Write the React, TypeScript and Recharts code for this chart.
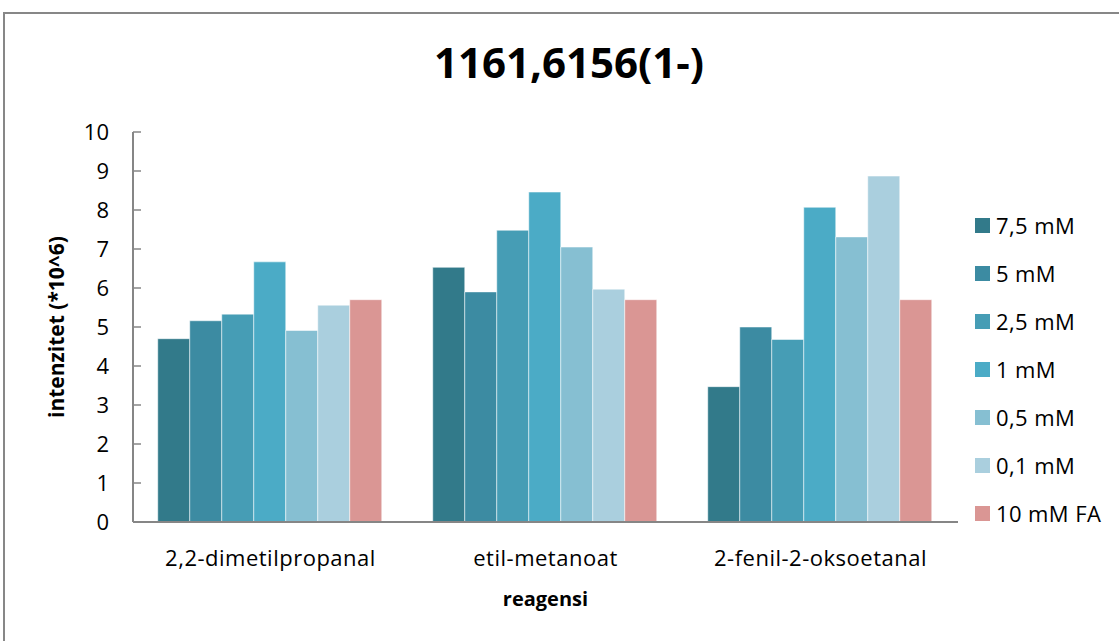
import { BarChart, Bar, XAxis, YAxis, Legend, Label } from "recharts";

// categories (x axis) and one value list per concentration, in *10^6
const reagents = ["2,2-dimetilpropanal", "etil-metanoat", "2-fenil-2-oksoetanal"];
const conc75 = [4.7, 6.53, 3.47];
const conc5 = [5.16, 5.9, 5.0];
const conc25 = [5.33, 7.48, 4.68];
const conc1 = [6.67, 8.46, 8.07];
const conc05 = [4.91, 7.05, 7.31];
const conc01 = [5.56, 5.97, 8.87];
const fa10 = [5.7, 5.7, 5.7];
const yTicks = [0, 1, 2, 3, 4, 5, 6, 7, 8, 9, 10];

const seriesNames = ["7,5 mM", "5 mM", "2,5 mM", "1 mM", "0,5 mM", "0,1 mM", "10 mM FA"];
const seriesColors = ["#327a8a", "#3c8ba2", "#469db5", "#4babc6", "#86bfd2", "#aacfde", "#da9694"];
const seriesValues = [conc75, conc5, conc25, conc1, conc05, conc01, fa10];

const data = reagents.map((name, i) => {
  const row: Record<string, string | number> = { name };
  seriesNames.forEach((s, k) => {
    row[s] = seriesValues[k][i];
  });
  return row;
});

const FONT = "'Open Sans', 'Noto Sans', sans-serif";

// y ticks: label on the left, short tick mark pointing into the plot
const YTick = (props: any) => {
  const { x, y, payload } = props;
  return (
    <g>
      <line x1={x + 24} x2={x + 32} y1={y} y2={y} stroke="#868686" strokeWidth={1.5} />
      <text x={x} y={y} dy={8} textAnchor="end" fontSize={22} fill="#000" fontFamily={FONT}>
        {payload.value}
      </text>
    </g>
  );
};

const LegendBox = () => (
  <div style={{ fontFamily: FONT, fontSize: 22, color: "#000", letterSpacing: 0.4 }}>
    {seriesNames.map((s, k) => (
      <div key={s} style={{ display: "flex", alignItems: "center", height: 48 }}>
        <span style={{ width: 15, height: 15, background: seriesColors[k], marginRight: 6, display: "inline-block" }} />
        <span>{s}</span>
      </div>
    ))}
  </div>
);

export default function App() {
  return (
    <div style={{ position: "absolute", left: 0, top: 0, width: 1119, height: 641, background: "#fff", overflow: "hidden" }}>
      <div
        style={{
          position: "absolute",
          left: 3,
          top: 12,
          width: 1200,
          height: 700,
          border: "2px solid #878787",
        }}
      />
      <div
        style={{
          position: "absolute",
          left: 0,
          width: 1138,
          top: 33,
          textAlign: "center",
          fontFamily: FONT,
          fontWeight: 700,
          fontSize: 42,
          color: "#000",
          lineHeight: "normal",
        }}
      >
        1161,6156(1-)
      </div>
      <div style={{ position: "absolute", left: 0, top: 0 }}>
        <BarChart
          width={1119}
          height={641}
          data={data}
          margin={{ top: 132, right: 161, left: 33, bottom: 29 }}
          barCategoryGap="9%"
          barGap={0}
        >
          <XAxis
            dataKey="name"
            axisLine={{ stroke: "#868686", strokeWidth: 2 }}
            tickLine={false}
            tickMargin={22}
            tick={{ fontSize: 22, fill: "#000", fontFamily: FONT, letterSpacing: 0.5 }}
            height={90}
          >
            <Label
              value="reagensi"
              position="insideBottom"
              offset={6}
              style={{ fontSize: 20, fontWeight: 700, fill: "#000", fontFamily: FONT }}
            />
          </XAxis>
          <YAxis
            domain={[0, 10]}
            ticks={yTicks}
            width={100}
            axisLine={{ stroke: "#868686", strokeWidth: 2 }}
            tickLine={false}
            tickSize={0}
            tickMargin={24}
            tick={<YTick />}
            interval={0}
          >
            <Label
              value="intenzitet (*10^6)"
              angle={-90}
              position="insideLeft"
              offset={24}
              style={{ fontSize: 21, fontWeight: 700, fill: "#000", fontFamily: FONT, textAnchor: "middle" }}
            />
          </YAxis>
          <Legend
            layout="vertical"
            align="center"
            verticalAlign="middle"
            content={<LegendBox />}
            wrapperStyle={{ left: 975, top: 201, width: 144 }}
          />
          {seriesNames.map((s, k) => (
            <Bar
              key={s}
              dataKey={s}
              fill={seriesColors[k]}
              stroke="#ffffff"
              strokeOpacity={0.5}
              strokeWidth={1}
              isAnimationActive={false}
            />
          ))}
        </BarChart>
      </div>
    </div>
  );
}
